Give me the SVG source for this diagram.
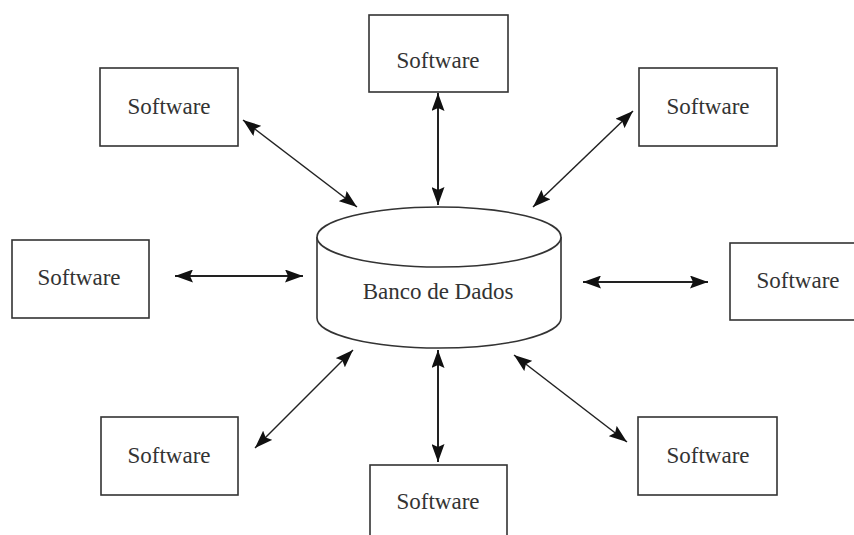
<svg xmlns="http://www.w3.org/2000/svg" width="854" height="535" viewBox="0 0 854 535">
<defs>
<marker id="ah" markerUnits="userSpaceOnUse" markerWidth="19" markerHeight="13" refX="18" refY="6.5" orient="auto-start-reverse" viewBox="0 0 19 13">
<path d="M0,0 L18,6.5 L0,13 L3,6.5 z" fill="#111"/>
</marker>
</defs>
<style>
.box{fill:#fff;stroke:#333;stroke-width:1.6}
.lbl{font-family:"Liberation Serif","Times New Roman",serif;font-size:23px;fill:#333;text-anchor:middle}
.con{stroke:#222;stroke-width:1.5;fill:none;marker-start:url(#ah);marker-end:url(#ah)}
.thick{stroke-width:2}
</style>
<rect width="854" height="535" fill="#fff"/>
<g id="connectors">
<line class="con" x1="243" y1="120" x2="357" y2="207"/>
<line class="con thick" x1="438" y1="93" x2="438" y2="205"/>
<line class="con" x1="633" y1="111" x2="533" y2="207"/>
<line class="con thick" x1="175" y1="276" x2="303" y2="276"/>
<line class="con thick" x1="583" y1="282" x2="708" y2="282"/>
<line class="con" x1="353" y1="350" x2="255" y2="448"/>
<line class="con thick" x1="438" y1="350" x2="438" y2="462"/>
<line class="con" x1="514" y1="355" x2="627" y2="442"/>
</g>
<g id="db">
<path class="box" d="M317,237 L317,318 A122,30 0 0 0 561,318 L561,237"/>
<ellipse class="box" cx="439" cy="237" rx="122" ry="30"/>
<text class="lbl" x="438" y="299">Banco de Dados</text>
</g>
<g id="sw-top-left">
<rect class="box" x="100" y="68" width="138" height="78"/>
<text class="lbl" x="169" y="114">Software</text>
</g>
<g id="sw-top">
<rect class="box" x="369" y="15" width="139" height="77"/>
<text class="lbl" x="438" y="68">Software</text>
</g>
<g id="sw-top-right">
<rect class="box" x="639" y="68" width="138" height="78"/>
<text class="lbl" x="708" y="114">Software</text>
</g>
<g id="sw-left">
<rect class="box" x="12" y="240" width="137" height="78"/>
<text class="lbl" x="79" y="285">Software</text>
</g>
<g id="sw-right">
<rect class="box" x="730" y="243" width="138" height="77"/>
<text class="lbl" x="798" y="288">Software</text>
</g>
<g id="sw-bottom-left">
<rect class="box" x="101" y="417" width="137" height="78"/>
<text class="lbl" x="169" y="463">Software</text>
</g>
<g id="sw-bottom">
<rect class="box" x="370" y="465" width="137" height="78"/>
<text class="lbl" x="438" y="509">Software</text>
</g>
<g id="sw-bottom-right">
<rect class="box" x="638" y="417" width="139" height="78"/>
<text class="lbl" x="708" y="463">Software</text>
</g>
</svg>
